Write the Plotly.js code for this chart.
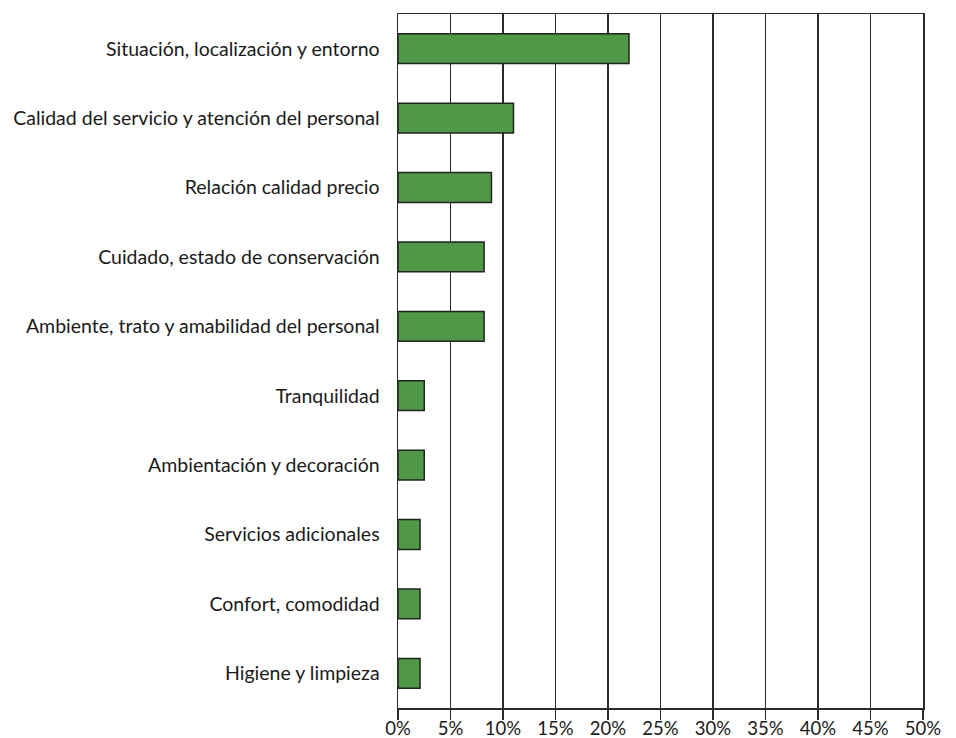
<!DOCTYPE html>
<html>
<head>
<meta charset="utf-8">
<script src="https://cdn.plot.ly/plotly-3.0.1.min.js"></script>
<style>html,body{margin:0;padding:0;background:#fff;}#chart{width:956px;height:738px;}</style>
</head>
<body>
<div id="chart"></div>
<script>
const categories = [
  "Situación, localización y entorno",
  "Calidad del servicio y atención del personal",
  "Relación calidad precio",
  "Cuidado, estado de conservación",
  "Ambiente, trato y amabilidad del personal",
  "Tranquilidad",
  "Ambientación y decoración",
  "Servicios adicionales",
  "Confort, comodidad",
  "Higiene y limpieza"
];
const values = [22.0, 11.0, 8.9, 8.2, 8.2, 2.5, 2.5, 2.1, 2.1, 2.1];
const tickVals = [0, 5, 10, 15, 20, 25, 30, 35, 40, 45, 50];
const tickText = ["0%", "5%", "10%", "15%", "20%", "25%", "30%", "35%", "40%", "45%", "50%"];

const FONT = "Lato, 'Open Sans', sans-serif";
const LINE = "#2a2a2a";

const trace = {
  type: "bar",
  orientation: "h",
  x: values,
  y: categories,
  width: 0.43,
  marker: { color: "#4f9845", line: { color: "#222222", width: 1.5 } },
  hoverinfo: "x+y"
};

const layout = {
  width: 956,
  height: 738,
  margin: { l: 398, r: 33, t: 14, b: 30 },
  paper_bgcolor: "#ffffff",
  plot_bgcolor: "#ffffff",
  showlegend: false,
  font: { family: FONT, size: 19.5, color: "#1a1a1a" },
  xaxis: {
    range: [0, 50],
    tickvals: tickVals,
    ticktext: tickText,
    showgrid: true,
    gridcolor: LINE,
    gridwidth: 1.5,
    zeroline: false,
    showline: true,
    linecolor: LINE,
    linewidth: 1.5,
    mirror: true,
    ticks: "outside",
    ticklen: 10,
    tickwidth: 1.5,
    tickcolor: LINE,
    ticklabelstandoff: -7,
    tickfont: { family: FONT, size: 18.5, color: "#1a1a1a" },
    fixedrange: true
  },
  yaxis: {
    type: "category",
    autorange: "reversed",
    showgrid: false,
    zeroline: false,
    showline: true,
    linecolor: LINE,
    linewidth: 1.5,
    mirror: true,
    ticks: "",
    ticklabelstandoff: 13,
    tickfont: { family: FONT, size: 19.5, color: "#1a1a1a" },
    fixedrange: true
  }
};

Plotly.newPlot("chart", [trace], layout, { displayModeBar: false, staticPlot: true });
</script>
</body>
</html>
